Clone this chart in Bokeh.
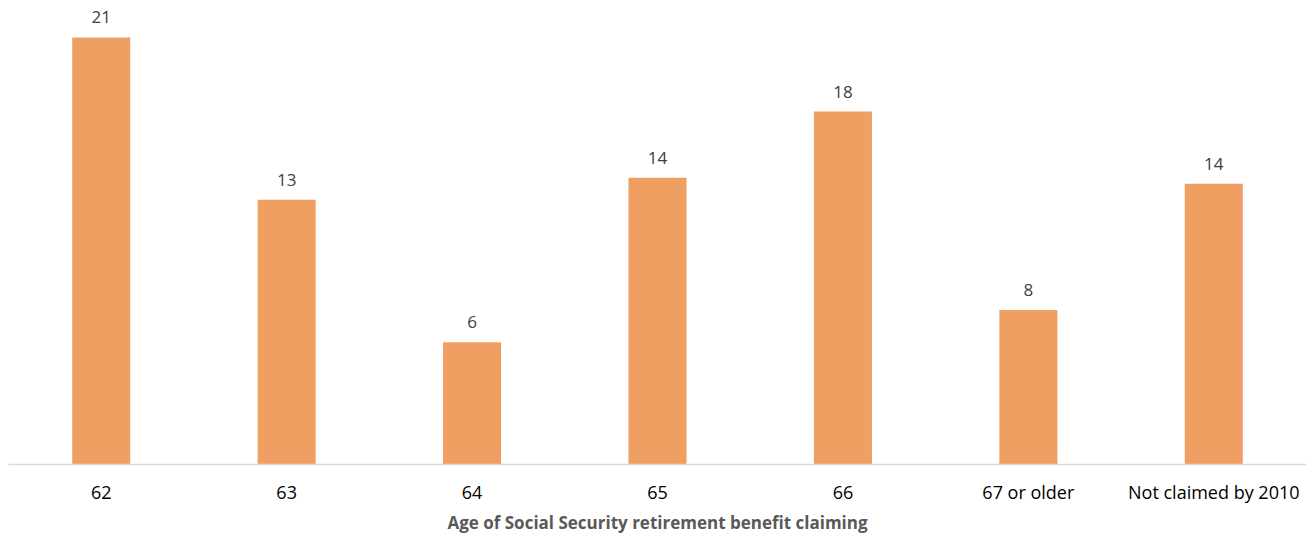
from bokeh.plotting import figure
from bokeh.models import ColumnDataSource, FactorRange, Range1d, LabelSet
from bokeh.core.properties import value
from bokeh.embed import file_html
from bokeh.resources import INLINE

# Share of claimants by age of first Social Security retirement benefit claim
categories = ["62", "63", "64", "65", "66", "67 or older", "Not claimed by 2010"]
shares = [21.3, 13.2, 6.1, 14.3, 17.6, 7.7, 14.0]
axis_title = "Age of Social Security retirement benefit claiming"

source = ColumnDataSource(dict(
    cat=categories,
    val=shares,
    label=[f"{v:.0f}" for v in shares],
))

p = figure(
    width=1315, height=537,
    x_range=FactorRange(*categories, range_padding=0),
    y_range=Range1d(0, 23.14),
    output_backend="svg", toolbar_location=None,
    min_border_left=8, min_border_right=9, min_border_top=0, min_border_bottom=73,
)

p.vbar(x="cat", top="val", width=0.313, source=source,
       fill_color="#F09F63", line_color=None)

labels = LabelSet(x="cat", y="val", text="label", source=source,
                  text_align="center", text_baseline="bottom", y_offset=14,
                  text_font=value("Open Sans"), text_font_size="17px",
                  text_color="#404040")
p.add_layout(labels)

p.yaxis.visible = False
p.xgrid.grid_line_color = None
p.ygrid.grid_line_color = None
p.outline_line_color = None

ax = p.xaxis[0]
ax.axis_line_color = "#d9d9d9"
ax.axis_line_width = 1.5
ax.major_tick_line_color = None
ax.minor_tick_line_color = None
ax.major_tick_in = 0
ax.major_tick_out = 0
ax.major_label_standoff = 15
ax.major_label_text_font = "Open Sans"
ax.major_label_text_font_size = "18px"
ax.major_label_text_color = "#000000"
ax.axis_label = axis_title
ax.axis_label_standoff = 4
ax.axis_label_text_font = "Open Sans"
ax.axis_label_text_font_style = "bold"
ax.axis_label_text_font_size = "17px"
ax.axis_label_text_color = "#595959"

open("out.html", "w").write(file_html(p, INLINE))
